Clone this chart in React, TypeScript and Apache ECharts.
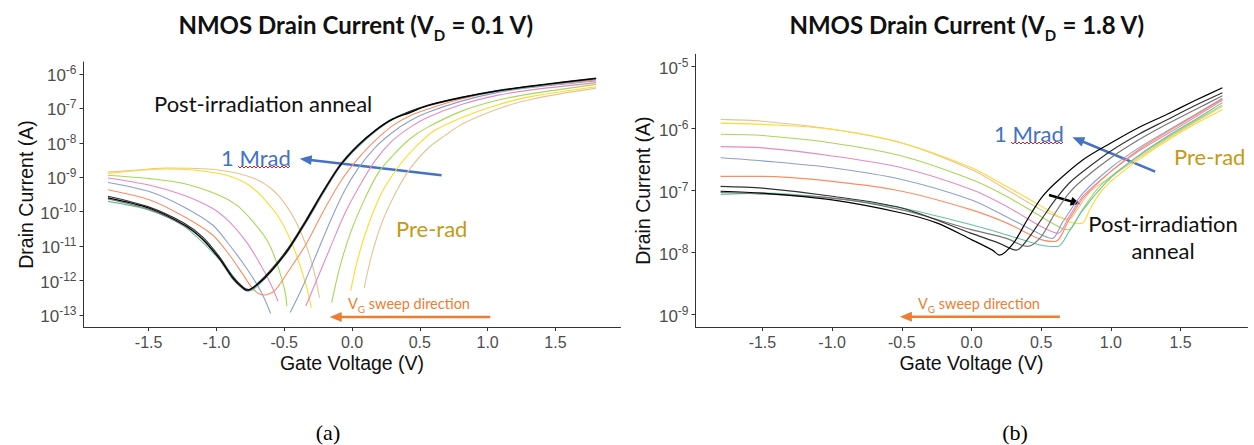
import React, { useEffect, useRef } from 'react';
import * as echarts from 'echarts';

// ---------- tick values ----------
const xTicks = [-1.5, -1.0, -0.5, 0.0, 0.5, 1.0, 1.5];
const leftYTicks = [-13, -12, -11, -10, -9, -8, -7, -6]; // log10 of current (A)
const rightYTicks = [-9, -8, -7, -6, -5];

// ---------- (a) VD = 0.1 V : [gate voltage, log10(drain current)] ; '-' = gap ----------
const aPreRad = [[-1.8, -8.85], [-1.55, -8.78], [-1.37, -8.73], [-1.0, -8.78], [-0.73, -9.02], [-0.57, -9.42], [-0.44, -10.1], [-0.34, -10.96], [-0.28, -11.73], [-0.24, -12.5], [-0.1, '-'],
  [0.09, -12.21], [0.146, -11.25], [0.223, -10.29], [0.326, -9.42], [0.428, -8.75], [0.556, -8.17], [0.685, -7.79], [0.813, -7.45], [1.07, -7.02], [1.326, -6.73], [1.8, -6.41]];
const aDose1 = [[-1.8, -8.89], [-1.37, -8.76], [-0.98, -8.89], [-0.78, -9.18], [-0.65, -9.62], [-0.52, -10.29], [-0.42, -11.15], [-0.34, -12.12], [-0.3, -12.79], [-0.15, '-'],
  [-0.01, -12.3], [0.044, -11.35], [0.121, -10.38], [0.223, -9.42], [0.351, -8.65], [0.479, -8.08], [0.608, -7.64], [0.813, -7.26], [1.07, -6.9], [1.326, -6.65], [1.8, -6.37]];
const aDose2 = [[-1.8, -8.94], [-1.49, -9.04], [-1.24, -9.18], [-0.98, -9.52], [-0.85, -9.81], [-0.73, -10.29], [-0.62, -10.87], [-0.55, -11.54], [-0.495, -12.3], [-0.48, -12.74], [-0.3, '-'],
  [-0.15, -12.64], [-0.085, -11.54], [-0.008, -10.58], [0.095, -9.62], [0.197, -8.85], [0.3, -8.37], [0.428, -7.88], [0.556, -7.55], [0.813, -7.07], [1.07, -6.76], [1.326, -6.57], [1.8, -6.3]];
const aDose3 = [[-1.8, -9.02], [-1.49, -9.23], [-1.24, -9.52], [-1.03, -9.9], [-0.905, -10.29], [-0.78, -10.87], [-0.674, -11.54], [-0.597, -12.12], [-0.546, -12.6], [-0.45, '-'],
  [-0.34, -12.74], [-0.264, -12.02], [-0.162, -11.06], [-0.059, -10.1], [0.044, -9.33], [0.172, -8.51], [0.3, -7.93], [0.428, -7.55], [0.556, -7.26], [0.813, -6.88], [1.07, -6.62], [1.326, -6.46], [1.8, -6.25]];
const aDose4 = [[-1.8, -9.15], [-1.49, -9.42], [-1.24, -9.86], [-1.03, -10.38], [-0.905, -10.96], [-0.78, -11.63], [-0.674, -12.3], [-0.6, -12.96], [-0.53, '-'],
  [-0.456, -12.93], [-0.367, -12.21], [-0.264, -11.25], [-0.162, -10.29], [-0.059, -9.42], [0.044, -8.75], [0.172, -8.13], [0.3, -7.69], [0.428, -7.36], [0.556, -7.12], [0.813, -6.78], [1.07, -6.54], [1.326, -6.39], [1.8, -6.2]];
const aDose5 = [[-1.8, -9.36], [-1.49, -9.66], [-1.24, -10.14], [-1.03, -10.67], [-0.905, -11.25], [-0.803, -11.83], [-0.726, -12.26], [-0.649, -12.42], [-0.572, -12.3], [-0.469, -11.73], [-0.341, -10.96], [-0.213, -10.0], [-0.085, -9.13], [0.044, -8.46], [0.172, -7.93], [0.3, -7.5], [0.428, -7.21], [0.556, -7.02], [0.813, -6.72], [1.07, -6.5], [1.326, -6.36], [1.8, -6.17]];
const a1Mrad = [[-1.8, -9.7], [-1.5, -9.95], [-1.24, -10.42], [-0.98, -11.38], [-0.8, -12.25], [-0.76, -12.3], [-0.6, -11.75], [-0.34, -10.3], [-0.085, -8.66], [0.3, -7.32], [0.8, -6.69], [1.8, -6.14]];
const aAnneal1 = [[-1.8, -9.6], [-1.495, -9.9], [-1.238, -10.38], [-1.11, -10.77], [-0.98, -11.35], [-0.88, -11.92], [-0.8, -12.23], [-0.77, -12.28], [-0.7, -12.12], [-0.597, -11.73], [-0.47, -11.1], [-0.341, -10.29], [-0.213, -9.42], [-0.085, -8.65], [0.044, -8.08], [0.172, -7.64], [0.3, -7.31], [0.428, -7.12], [0.556, -6.92], [0.813, -6.68], [1.07, -6.49], [1.326, -6.35], [1.58, -6.23], [1.8, -6.13]];
const aAnneal2 = [[-1.8, -9.55], [-1.5, -9.86], [-1.24, -10.33], [-1.1, -10.74], [-0.98, -11.3], [-0.88, -11.88], [-0.8, -12.2], [-0.76, -12.26], [-0.7, -12.1], [-0.6, -11.7], [-0.47, -11.06], [-0.34, -10.24], [-0.21, -9.38], [-0.085, -8.62], [0.044, -8.06], [0.172, -7.63], [0.3, -7.3], [0.556, -6.91], [0.813, -6.67], [1.07, -6.48], [1.326, -6.34], [1.8, -6.12]];
const aAnneal3 = [[-1.8, -9.63], [-1.5, -9.93], [-1.24, -10.4], [-1.1, -10.8], [-0.98, -11.37], [-0.88, -11.95], [-0.8, -12.25], [-0.77, -12.3], [-0.7, -12.14], [-0.6, -11.76], [-0.47, -11.13], [-0.34, -10.32], [-0.21, -9.45], [-0.085, -8.67], [0.044, -8.1], [0.172, -7.66], [0.3, -7.32], [0.556, -6.93], [0.813, -6.69], [1.07, -6.5], [1.326, -6.36], [1.8, -6.14]];

// ---------- (b) VD = 1.8 V ----------
const bPreRad = [[-1.8, -5.85], [-1.5, -5.88], [-1.0, -6.01], [-0.5, -6.23], [0, -6.66], [0.25, -6.98], [0.5, -7.31], [0.62, -7.42], [0.7, -7.46], [0.76, -7.3], [0.85, -7.02], [1.0, -6.78], [1.2, -6.47], [1.4, -6.17], [1.6, -5.9], [1.8, -5.64]];
const bDose1 = [[-1.8, -5.91], [-1.5, -5.93], [-1.0, -6.01], [-0.5, -6.23], [0, -6.63], [0.25, -6.93], [0.5, -7.25], [0.7, -7.5], [0.79, -7.53], [0.85, -7.3], [0.92, -7.04], [1.0, -6.85], [1.2, -6.5], [1.4, -6.2], [1.6, -5.93], [1.8, -5.69]];
const bDose2 = [[-1.8, -6.09], [-1.5, -6.11], [-1.0, -6.23], [-0.5, -6.44], [0, -6.82], [0.25, -7.09], [0.5, -7.42], [0.65, -7.61], [0.7, -7.63], [0.78, -7.36], [0.9, -6.98], [1.0, -6.77], [1.2, -6.44], [1.4, -6.15], [1.6, -5.88], [1.8, -5.62]];
const bDose3 = [[-1.8, -6.29], [-1.5, -6.31], [-1.0, -6.44], [-0.5, -6.63], [0, -6.98], [0.25, -7.25], [0.5, -7.58], [0.62, -7.69], [0.7, -7.42], [0.8, -7.09], [1.0, -6.69], [1.2, -6.36], [1.4, -6.09], [1.6, -5.82], [1.8, -5.54]];
const bDose4 = [[-1.8, -6.47], [-1.5, -6.52], [-1.0, -6.63], [-0.5, -6.82], [0, -7.15], [0.25, -7.42], [0.5, -7.71], [0.58, -7.77], [0.65, -7.52], [0.8, -7.04], [1.0, -6.63], [1.2, -6.31], [1.4, -6.04], [1.6, -5.78], [1.8, -5.51]];
const bDose5 = [[-1.8, -6.77], [-1.5, -6.77], [-1.0, -6.85], [-0.5, -7.01], [0, -7.31], [0.25, -7.52], [0.5, -7.79], [0.6, -7.82], [0.7, -7.47], [0.8, -7.12], [1.0, -6.69], [1.2, -6.34], [1.4, -6.06], [1.6, -5.79], [1.8, -5.52]];
const b1Mrad = [[-1.8, -7.06], [-1.5, -7.04], [-1.0, -7.12], [-0.5, -7.28], [0, -7.55], [0.25, -7.71], [0.5, -7.88], [0.62, -7.9], [0.7, -7.66], [0.8, -7.31], [1.0, -6.79], [1.2, -6.43], [1.4, -6.13], [1.6, -5.86], [1.8, -5.58]];
const bAnneal1 = [[-1.8, -7.01], [-1.5, -7.04], [-1.0, -7.15], [-0.5, -7.36], [-0.25, -7.52], [0, -7.79], [0.15, -7.96], [0.2, -8.04], [0.3, -7.85], [0.4, -7.47], [0.5, -7.12], [0.6, -6.88], [0.8, -6.5], [1.0, -6.23], [1.2, -5.98], [1.4, -5.77], [1.6, -5.55], [1.8, -5.34]];
const bAnneal2 = [[-1.8, -6.93], [-1.5, -6.96], [-1.0, -7.09], [-0.5, -7.28], [0, -7.69], [0.2, -7.85], [0.32, -7.96], [0.4, -7.79], [0.5, -7.47], [0.6, -7.15], [0.7, -6.88], [0.8, -6.69], [1.0, -6.36], [1.2, -6.09], [1.4, -5.86], [1.6, -5.63], [1.8, -5.42]];
const bAnneal3 = [[-1.8, -7.03], [-1.0, -7.12], [-0.5, -7.31], [0, -7.63], [0.25, -7.77], [0.4, -7.9], [0.5, -7.74], [0.6, -7.36], [0.7, -7.04], [0.8, -6.82], [1.0, -6.47], [1.2, -6.18], [1.4, -5.93], [1.6, -5.7], [1.8, -5.47]];

const curveColors = ['#E5C494', '#FFD92F', '#A6D854', '#E78AC3', '#8DA0CB', '#FC8D62', '#66C2A5', '#777777', '#333333', '#000000'];
const curveNames = ['Pre-rad', 'Dose 1', 'Dose 2', 'Dose 3', 'Dose 4', 'Dose 5', '1 Mrad', 'Anneal 1', 'Anneal 2', 'Anneal 3'];
const leftCurves = [aPreRad, aDose1, aDose2, aDose3, aDose4, aDose5, a1Mrad, aAnneal3, aAnneal2, aAnneal1];
const rightCurves = [bPreRad, bDose1, bDose2, bDose3, bDose4, bDose5, b1Mrad, bAnneal3, bAnneal2, bAnneal1];

const SANS = 'Liberation Sans';
const CAL = 'Lato';
const BLUE = '#4472C4';
const ORANGE = '#ED7D31';
const GOLD = '#C49A12';

function arrow(x1: number, y1: number, x2: number, y2: number, color: string, w: number, hl: number, hw: number) {
  const dx = x2 - x1, dy = y2 - y1;
  const len = Math.sqrt(dx * dx + dy * dy);
  const ux = dx / len, uy = dy / len;
  const px = -uy, py = ux;
  const bx = x2 - ux * hl, by = y2 - uy * hl;
  return {
    type: 'group',
    children: [
      { type: 'line', shape: { x1, y1, x2: x2 - ux * hl * 0.7, y2: y2 - uy * hl * 0.7 }, style: { stroke: color, lineWidth: w } },
      { type: 'polygon', shape: { points: [[x2, y2], [bx + px * hw / 2, by + py * hw / 2], [bx - px * hw / 2, by - py * hw / 2]] }, style: { fill: color } },
    ],
  };
}

function squiggle(x0: number, x1: number, y: number) {
  const pts: number[][] = [];
  let up = true;
  for (let x = x0; x <= x1; x += 2) {
    pts.push([x, y + (up ? -1 : 1)]);
    up = !up;
  }
  return { type: 'polyline', shape: { points: pts }, style: { stroke: '#E02020', lineWidth: 1, fill: null } };
}

const titleRich = {
  t: { fontFamily: CAL, fontWeight: 'bold', fontSize: 24, lineHeight: 30, verticalAlign: 'top', fill: '#111' },
  d: { fontFamily: CAL, fontWeight: 'bold', fontSize: 15, lineHeight: 15, verticalAlign: 'bottom', fill: '#111' },
};
const sweepRich = {
  o: { fontFamily: CAL, fontSize: 14.5, lineHeight: 18, verticalAlign: 'top', fill: ORANGE },
  g: { fontFamily: CAL, fontSize: 10, lineHeight: 10, verticalAlign: 'bottom', fill: ORANGE },
};

function annot(text: string, x: number, y: number, fill: string, size: number, align = 'left') {
  return { type: 'text', x, y, style: { text, fill, fontFamily: CAL, fontSize: size, align, verticalAlign: 'middle' } };
}

function makeX(gridIndex: number) {
  return {
    type: 'value', gridIndex, min: -1.98, max: 1.98,
    axisLine: { show: true, onZero: false, lineStyle: { color: '#333', width: 1 } },
    axisTick: { show: true, length: 4, customValues: xTicks, lineStyle: { color: '#333' } },
    axisLabel: { customValues: xTicks, margin: 7, formatter: (v: number) => v.toFixed(1), color: '#4d4d4d', fontSize: 16, fontFamily: SANS },
    splitLine: { show: false },
    name: 'Gate Voltage (V)', nameLocation: 'middle', nameGap: 26, nameMoveOverlap: false,
    nameTextStyle: { fontSize: 19.5, color: '#111', fontFamily: SANS },
  };
}

function makeY(gridIndex: number, ticks: number[], min: number, max: number, nameGap: number) {
  return {
    type: 'value', gridIndex, min, max,
    axisLine: { show: true, onZero: false, lineStyle: { color: '#333', width: 1 } },
    axisTick: { show: true, length: 4, customValues: ticks, lineStyle: { color: '#333' } },
    axisLabel: {
      customValues: ticks, margin: 7,
      formatter: (v: number) => `{b|10}{s|${v}}`,
      rich: {
        b: { fontSize: 17, color: '#4d4d4d', fontFamily: SANS, lineHeight: 20, verticalAlign: 'bottom' },
        s: { fontSize: 12, color: '#4d4d4d', fontFamily: SANS, lineHeight: 13, padding: [0, 0, 10, 0], verticalAlign: 'top' },
      },
    },
    splitLine: { show: false },
    name: 'Drain Current (A)', nameLocation: 'middle', nameGap, nameMoveOverlap: false,
    nameTextStyle: { fontSize: 19.5, color: '#111', fontFamily: SANS },
  };
}

export default function App() {
  const ref = useRef<HTMLDivElement>(null);
  useEffect(() => {
    if (!ref.current) return;
    const chart = echarts.init(ref.current, undefined, { renderer: 'svg' });
    const series: any[] = [];
    [leftCurves, rightCurves].forEach((curves, gi) => {
      curves.forEach((data, i) => {
        series.push({
          type: 'line', name: curveNames[i], xAxisIndex: gi, yAxisIndex: gi, data,
          showSymbol: false, symbol: 'none', smooth: 0.3, connectNulls: false,
          lineStyle: { color: curveColors[i], width: i >= 7 ? 1.2 : 1.1 },
          itemStyle: { color: curveColors[i] }, silent: true,
        });
      });
    });
    const graphic: any[] = [
      { type: 'text', x: 356, y: 27, style: { text: '{t|NMOS Drain Current (V}{d|D}{t| = 0.1 V)}', rich: titleRich, align: 'center', verticalAlign: 'middle' } },
      { type: 'text', x: 967, y: 27, style: { text: '{t|NMOS Drain Current (V}{d|D}{t| = 1.8 V)}', rich: titleRich, align: 'center', verticalAlign: 'middle' } },
      // (a)
      annot('Post-irradiation anneal', 154, 103, '#111', 22),
      annot('1 Mrad', 221, 157, BLUE, 22),
      squiggle(238, 290, 167),
      arrow(441.6, 175.3, 299.7, 158.7, BLUE, 2.5, 12, 10),
      annot('Pre-rad', 396, 228, GOLD, 22),
      { type: 'text', x: 348, y: 305, style: { text: '{o|V}{g|G}{o| sweep direction}', rich: sweepRich, align: 'left', verticalAlign: 'middle' } },
      arrow(490.3, 317, 329.7, 317, ORANGE, 2.5, 12, 10),
      // (b)
      annot('1 Mrad', 994, 133, BLUE, 22),
      squiggle(1011, 1063, 143),
      arrow(1155.2, 171.7, 1072.4, 137.3, BLUE, 2.5, 12, 10),
      annot('Pre-rad', 1174, 156, GOLD, 22),
      annot('Post-irradiation', 1163, 223, '#111', 22, 'center'),
      annot('anneal', 1163, 250, '#111', 22, 'center'),
      arrow(1049, 195, 1080.6, 204, '#000', 2.5, 10, 9),
      { type: 'text', x: 918, y: 305, style: { text: '{o|V}{g|G}{o| sweep direction}', rich: sweepRich, align: 'left', verticalAlign: 'middle' } },
      arrow(1059.9, 316.7, 899.9, 316.7, ORANGE, 2.5, 12, 10),
      // captions
      { type: 'text', x: 328, y: 432, style: { text: '(a)', fill: '#000', fontFamily: 'Liberation Serif', fontSize: 22, align: 'center', verticalAlign: 'middle' } },
      { type: 'text', x: 1015, y: 432, style: { text: '(b)', fill: '#000', fontFamily: 'Liberation Serif', fontSize: 22, align: 'center', verticalAlign: 'middle' } },
    ];
    chart.setOption({
      animation: false,
      backgroundColor: '#ffffff',
      grid: [
        { left: 83.5, top: 62, width: 537, height: 265, containLabel: false },
        { left: 695.5, top: 54.3, width: 552, height: 272.7, containLabel: false },
      ],
      xAxis: [makeX(0), makeX(1)],
      yAxis: [makeY(0, leftYTicks, -13.35, -5.65, 48), makeY(1, rightYTicks, -9.2, -4.8, 43)],
      series,
      graphic,
    });
    return () => chart.dispose();
  }, []);
  return <div ref={ref} style={{ position: 'fixed', left: 0, top: 0, width: 1254, height: 445, background: '#fff' }} />;
}
